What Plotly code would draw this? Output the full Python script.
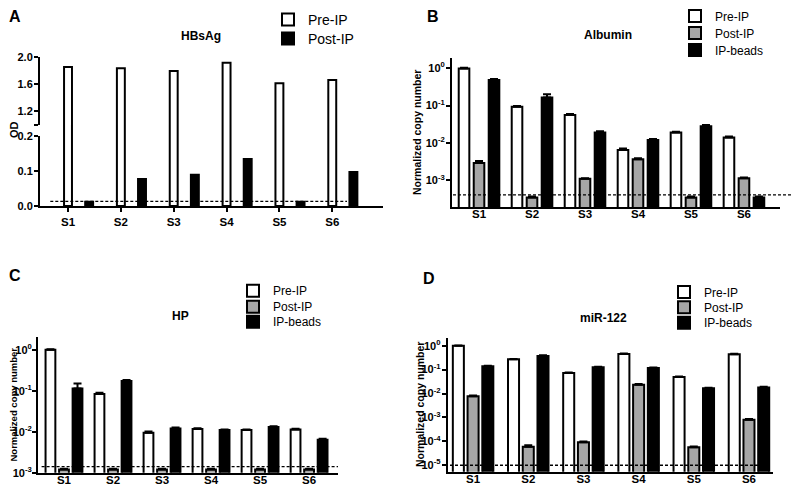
import plotly.graph_objects as go

# ---------------- data ----------------
samples = ["S1", "S2", "S3", "S4", "S5", "S6"]

# Panel A: HBsAg OD
hbsag_pre = [1.85, 1.83, 1.79, 1.91, 1.61, 1.66]
hbsag_post = [0.012, 0.077, 0.089, 0.134, 0.012, 0.097]
hbsag_lod = 0.013

# Panel B: Albumin
alb_pre = [0.98, 0.093, 0.056, 0.0065, 0.019, 0.014]
alb_post = [0.0029, 0.00035, 0.0011, 0.0037, 0.00035, 0.00115]
alb_ip = [0.48, 0.165, 0.019, 0.012, 0.028, 0.00035]
alb_pre_err = [0.05, 0.004, 0.003, 0.0006, 0.001, 0.0008]
alb_post_err = [0.0004, 0.00002, 0.00005, 0.0002, 0.00002, 0.00005]
alb_ip_err = [0.03, 0.035, 0.0015, 0.0008, 0.002, 0.00002]
alb_lod = 0.00041

# Panel C: HP
hp_pre = [1.0, 0.083, 0.0095, 0.0117, 0.011, 0.0114]
hp_post = [0.0012, 0.0012, 0.0012, 0.0012, 0.0012, 0.0012]
hp_ip = [0.114, 0.174, 0.012, 0.011, 0.013, 0.0064]
hp_pre_err = [0.03, 0.006, 0.0006, 0.0004, 0.0004, 0.0004]
hp_post_err = [0.00005] * 6
hp_ip_err = [0.036, 0.008, 0.0006, 0.0004, 0.0006, 0.0003]
hp_lod = 0.0014

# Panel D: miR-122
mir_pre = [1.0, 0.27, 0.072, 0.45, 0.049, 0.44]
mir_post = [0.0076, 0.000059, 0.000091, 0.0234, 0.000057, 0.0008]
mir_ip = [0.137, 0.37, 0.125, 0.117, 0.0166, 0.018]
mir_pre_err = [0.02, 0.01, 0.003, 0.02, 0.002, 0.02]
mir_post_err = [0.0006, 0.00001, 0.000008, 0.0015, 0.000004, 0.00006]
mir_ip_err = [0.008, 0.03, 0.008, 0.007, 0.001, 0.001]
mir_lod = 0.00001

FONT = "Arial, Liberation Sans, sans-serif"
WHITE = "#ffffff"
GRAY = "#a6a6a6"
BLACK = "#000000"

# page has an 8px body margin; figure is sized to fill the rest of the window
OFF = 8
W, H = 799 - OFF, 490 - OFF


def px(x):
    return (x - OFF) / W


def py(y):
    return 1 - (y - OFF) / H


fig = go.Figure()


def add_bar(x, y, color, name, xa, ya, offset, width, err=None, legend="legend", show=True):
    kw = {}
    if err is not None:
        kw["error_y"] = dict(type="data", symmetric=False, array=err,
                             arrayminus=[0] * len(err), color=BLACK,
                             thickness=2, width=4)
    fig.add_trace(go.Bar(
        x=x, y=y, name=name, xaxis=xa, yaxis=ya,
        marker=dict(color=color, line=dict(color=BLACK, width=2)),
        offset=offset, width=width, showlegend=show, legend=legend, **kw))


# Panel A (broken axis: lower, gap, upper share the bars)
for ya, show in (("y", True), ("y2", False), ("y3", False)):
    add_bar(samples, hbsag_pre, WHITE, "Pre-IP", "x", ya, -0.075, 0.15, legend="legend", show=show)
add_bar(samples, hbsag_post, BLACK, "Post-IP", "x", "y", 0.325, 0.15, legend="legend2")

# Panel B
w = 0.2
sp = 0.283
add_bar(samples, alb_pre, WHITE, "Pre-IP", "x2", "y4", -sp - w / 2, w, alb_pre_err, "legend3")
add_bar(samples, alb_post, GRAY, "Post-IP", "x2", "y4", -w / 2, w, alb_post_err, "legend4")
add_bar(samples, alb_ip, BLACK, "IP-beads", "x2", "y4", sp - w / 2, w, alb_ip_err, "legend5")

# Panel C
sp = 0.276
add_bar(samples, hp_pre, WHITE, "Pre-IP", "x3", "y5", -sp - w / 2, w, hp_pre_err, "legend6")
add_bar(samples, hp_post, GRAY, "Post-IP", "x3", "y5", -w / 2, w, hp_post_err, "legend7")
add_bar(samples, hp_ip, BLACK, "IP-beads", "x3", "y5", sp - w / 2, w, hp_ip_err, "legend8")

# Panel D
sp = 0.267
add_bar(samples, mir_pre, WHITE, "Pre-IP", "x4", "y6", -sp - w / 2, w, mir_pre_err, "legend9")
add_bar(samples, mir_post, GRAY, "Post-IP", "x4", "y6", -w / 2, w, mir_post_err, "legend10")
add_bar(samples, mir_ip, BLACK, "IP-beads", "x4", "y6", sp - w / 2, w, mir_ip_err, "legend11")

tickfont = dict(family=FONT, size=11, color=BLACK, weight="bold")
xtickfont = dict(family=FONT, size=11.5, color=BLACK, weight="bold")

common_x = dict(showline=True, linecolor=BLACK, linewidth=2, ticks="",
                tickfont=xtickfont, ticklabelstandoff=-5,
                showgrid=False, zeroline=False, type="category", automargin=False,
                categoryorder="array", categoryarray=samples)
common_y = dict(showline=True, linecolor=BLACK, linewidth=2, ticks="outside",
                ticklen=4, tickwidth=2, tickcolor=BLACK, tickfont=tickfont,
                ticklabelstandoff=-1,
                showgrid=False, zeroline=False, automargin=False)


def logticks(lo, hi):
    vals = [10 ** e for e in range(lo, hi + 1)]
    txt = ["10<sup>%d</sup>" % e for e in range(lo, hi + 1)]
    return vals, txt


bv, bt = logticks(-3, 0)
cv, ct = logticks(-3, 0)
dv, dt = logticks(-5, 0)

layout = dict(
    width=W, height=H,
    margin=dict(l=0, r=0, t=0, b=0, pad=0, autoexpand=False),
    paper_bgcolor="white", plot_bgcolor="white",
    font=dict(family=FONT, color=BLACK),
    barmode="overlay",
    xaxis=dict(common_x, domain=[px(40), px(383)], anchor="y", range=[-0.53, 5.96],
               ticks="outside", ticklen=4, tickwidth=2, tickcolor=BLACK,
               ticklabelstandoff=0),
    yaxis=dict(common_y, domain=[py(206), py(136)], anchor="x", range=[0, 0.2],
               tickvals=[0, 0.1, 0.2], ticktext=["0.0", "0.1", "0.2"]),
    yaxis2=dict(common_y, domain=[py(125), py(56.7)], anchor="x", range=[1.0, 2.0],
                tickvals=[1.0, 1.2, 1.6, 2.0], ticktext=["", "1.2", "1.6", "2.0"]),
    yaxis3=dict(domain=[py(136), py(125)], anchor="x", range=[0.2, 1.0], visible=False,
                automargin=False),
    xaxis2=dict(common_x, domain=[px(452), px(780)], anchor="y4", range=[-0.51, 5.68]),
    yaxis4=dict(common_y, domain=[py(207), py(58)], anchor="x2", type="log",
                range=[-3.71, 0.27], tickvals=bv, ticktext=bt),
    xaxis3=dict(common_x, domain=[px(38), px(338)], anchor="y5", range=[-0.53, 5.59]),
    yaxis5=dict(common_y, domain=[py(472.7), py(336.7)], anchor="x3", type="log",
                range=[-3.0, 0.32], tickvals=cv, ticktext=ct, ticklabelstandoff=-2),
    xaxis4=dict(common_x, domain=[px(447.7), px(772.7)], anchor="y6", range=[-0.46, 5.43]),
    yaxis6=dict(common_y, domain=[py(471.7), py(338.3)], anchor="x4", type="log",
                range=[-5.27, 0.31], tickvals=dv, ticktext=dt),
)

# one legend per entry so each row can sit where the reference puts it
legend_rows = [
    ("legend", 268, 20, 14), ("legend2", 268, 39, 14),
    ("legend3", 675, 16, 12), ("legend4", 675, 33, 12), ("legend5", 675, 50, 12),
    ("legend6", 233, 290.7, 12), ("legend7", 233, 306.7, 12), ("legend8", 233, 321.7, 12),
    ("legend9", 664, 292, 12), ("legend10", 664, 307.3, 12), ("legend11", 664, 322.7, 12),
]
for key, lx, ly, fs in legend_rows:
    layout[key] = dict(x=px(lx), y=py(ly), xanchor="left", yanchor="middle",
                       font=dict(family=FONT, size=fs, color=BLACK),
                       bgcolor="rgba(0,0,0,0)", borderwidth=0)
fig.update_layout(**layout)

# Dashed detection-limit lines
for xref, yref, yval, x0, x1 in (("x domain", "y", hbsag_lod, 0.03, 0.895),
                                 ("x2 domain", "y4", alb_lod, 0.003, 1.055),
                                 ("x3 domain", "y5", hp_lod, 0.012, 1.0),
                                 ("x4 domain", "y6", mir_lod, 0.007, 0.99)):
    fig.add_shape(type="line", xref=xref, yref=yref, x0=x0, x1=x1, y0=yval, y1=yval,
                  line=dict(color=BLACK, width=1.3, dash="3px,2px"), layer="above")

ann = []
# panel letters
for txt, x, y in (("A", 15, 16.5), ("B", 433, 16.5), ("C", 15, 275), ("D", 429, 278)):
    ann.append(dict(text="<b>%s</b>" % txt, x=px(x), y=py(y), xref="paper", yref="paper",
                    xanchor="center", yanchor="middle",
                    showarrow=False, font=dict(family=FONT, size=16, color=BLACK)))
# titles
for txt, x, y in (("HBsAg", 201, 36), ("Albumin", 608, 35), ("HP", 180, 316), ("miR-122", 603, 318)):
    ann.append(dict(text="<b>%s</b>" % txt, x=px(x), y=py(y), xref="paper", yref="paper",
                    xanchor="center", yanchor="middle",
                    showarrow=False, font=dict(family=FONT, size=12, color=BLACK)))
# y titles
for txt, x, y, fs in (("OD", 14, 130, 11), ("Normalized copy number", 417, 132, 10.5),
                      ("Normalized copy number", 12.5, 405, 9.5),
                      ("Normalized copy number", 420, 405, 10.5)):
    ann.append(dict(text="<b>%s</b>" % txt, x=px(x), y=py(y), xref="paper", yref="paper",
                    xanchor="center", yanchor="middle",
                    showarrow=False, textangle=-90,
                    font=dict(family=FONT, size=fs, color=BLACK)))
fig.update_layout(annotations=ann)

fig.write_html("out.html")
